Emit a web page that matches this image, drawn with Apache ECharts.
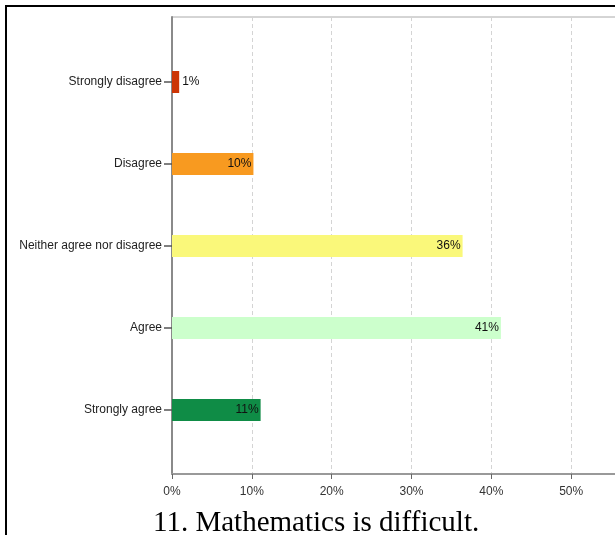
<!DOCTYPE html>
<html>
<head>
<meta charset="utf-8">
<script src="https://cdn.jsdelivr.net/npm/echarts@6/dist/echarts.min.js"></script>
<style>
html,body{margin:0;padding:0;background:#fff;}
#c{width:615px;height:535px;}
</style>
</head>
<body>
<div id="c"></div>
<script>
var categories = ['Strongly disagree', 'Disagree', 'Neither agree nor disagree', 'Agree', 'Strongly agree'];
var values = [0.9, 10.2, 36.4, 41.2, 11.1];
var xTicks = [0, 10, 20, 30, 40, 50, 60];
var titleText = '11. Mathematics is difficult.';

var barColors = ['#CC3505', '#F89A20', '#FAF87A', '#CCFFCC', '#0F8C46'];
var labelFont = 'Liberation Sans, Arial, sans-serif';

var chart = echarts.init(document.getElementById('c'));
var seriesData = values.map(function (v, i) {
  return {
    value: v,
    itemStyle: { color: barColors[i] },
    label: v < 3 ? { position: 'right', distance: 3 } : { position: 'insideRight', distance: 2 }
  };
});

chart.setOption({
  animation: false,
  backgroundColor: '#fff',
  title: {
    text: titleText,
    left: 153,
    top: 509,
    padding: 0,
    textStyle: { fontFamily: 'Liberation Serif, Times New Roman, serif', fontSize: 29, fontWeight: 'normal', color: '#000' }
  },
  graphic: [
    { type: 'line', shape: { x1: 5, y1: 6, x2: 615, y2: 6 }, style: { stroke: '#000', lineWidth: 2 }, z: 10 },
    { type: 'line', shape: { x1: 6, y1: 5, x2: 6, y2: 535 }, style: { stroke: '#000', lineWidth: 2 }, z: 10 }
  ],
  grid: [
    { left: 172, width: 479, top: 17, bottom: 61, show: true, borderColor: '#aaa', borderWidth: 1, outerBoundsMode: 'none', containLabel: false },
    { left: 172, width: 479, top: 41, bottom: 84, outerBoundsMode: 'none', containLabel: false }
  ],
  xAxis: [
    {
      gridIndex: 0, type: 'value', min: xTicks[0], max: xTicks[xTicks.length - 1], interval: 10,
      axisLine: { show: true, lineStyle: { color: '#999', width: 2 } },
      axisTick: { show: true, length: 5, lineStyle: { color: '#666' } },
      axisLabel: { formatter: '{value}%', fontFamily: labelFont, fontSize: 12, color: '#333', margin: 12 },
      splitLine: { show: true, lineStyle: { type: [4, 3], color: '#d4d4d4' } }
    },
    {
      gridIndex: 1, type: 'value', min: xTicks[0], max: xTicks[xTicks.length - 1], show: false
    }
  ],
  yAxis: [
    {
      gridIndex: 0, type: 'value', min: 0, max: 1,
      axisLine: { show: true, lineStyle: { color: '#8a8a8a', width: 2 } },
      axisTick: { show: false }, axisLabel: { show: false }, splitLine: { show: false }
    },
    {
      gridIndex: 1, type: 'category', data: categories, inverse: true,
      axisLine: { show: false },
      axisTick: { show: true, alignWithLabel: true, length: 8, lineStyle: { color: '#555', width: 1.5 } },
      axisLabel: { fontFamily: labelFont, fontSize: 12, color: '#222', margin: 10, padding: [2, 0, 0, 0] },
      splitLine: { show: false }
    }
  ],
  series: [{
    type: 'bar',
    xAxisIndex: 1,
    yAxisIndex: 1,
    barWidth: 22,
    data: seriesData,
    label: {
      show: true,
      fontFamily: labelFont,
      fontSize: 12,
      color: '#111',
      formatter: function (p) { return Math.round(p.value) + '%'; }
    }
  }]
});
</script>
</body>
</html>
